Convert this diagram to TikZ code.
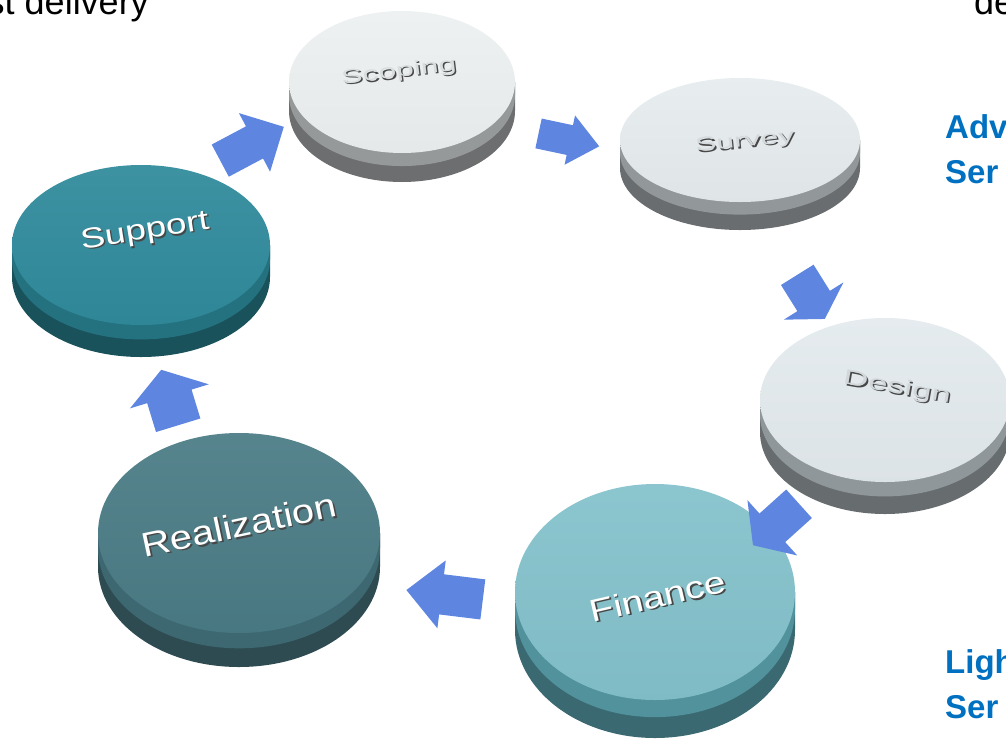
\documentclass[tikz,border=0pt]{standalone}
\usepackage{fontspec}
\setmainfont{Liberation Sans}
\usetikzlibrary{shapes.arrows,calc}

\definecolor{flowblue}{RGB}{94,134,224}
\definecolor{headblue}{RGB}{0,112,192}
\definecolor{scopetop}{RGB}{236,240,241}
\definecolor{scopeside}{RGB}{150,153,154}
\definecolor{surveytop}{RGB}{230,236,238}
\definecolor{surveyside}{RGB}{146,152,154}
\definecolor{designtop}{RGB}{227,234,237}
\definecolor{designside}{RGB}{143,151,154}
\definecolor{financetop}{RGB}{131,193,203}
\definecolor{financeside}{RGB}{82,146,157}
\definecolor{realtop}{RGB}{74,123,133}
\definecolor{realside}{RGB}{62,104,113}
\definecolor{supporttop}{RGB}{47,138,155}
\definecolor{supportside}{RGB}{36,114,128}

% disc: centre, x radius, y radius, depth, top colour, side colour
\newcommand{\disc}[6]{%
  \fill[#6!72!black] ($#1+(-#2,0)$) -- ++(0,#4) arc[start angle=180,end angle=0,x radius=#2,y radius=#3] -- ++(0,-#4) -- cycle;
  \fill[#6] ($#1+(-#2,0)$) -- ++(0,{0.45*#4}) arc[start angle=180,end angle=0,x radius=#2,y radius=#3] -- ++(0,{-0.45*#4}) -- cycle;
  \shade[top color=#5!93!white, bottom color=#5!97!black] #1 ellipse[x radius=#2,y radius=#3];
}

\tikzset{
  flow/.style={single arrow, fill=flowblue, draw=none, inner xsep=1pt, inner ysep=17pt,
    single arrow head extend=14pt, single arrow tip angle=90},
  lbl/.style={inner sep=0pt},
  ghost/.style={inner sep=0pt, text=black!72},
  note/.style={inner sep=0pt, font=\fontsize{36}{36}\selectfont},
  side/.style={inner sep=0pt, text=headblue, font=\fontsize{33}{33}\selectfont\bfseries}
}

\begin{document}
\begin{tikzpicture}[x=1pt,y=-1pt]
\useasboundingbox (0,0) rectangle (1006,742);

% cut-off headings
\node[note, anchor=base east] (deliv) at (149,14) {st delivery};
\node[note, anchor=base west] (deploy) at (974,14) {de};
\node[side, anchor=base west] (adv) at (945,138) {Adv};
\node[side, anchor=base west] (advser) at (945,183) {Ser};
\node[side, anchor=base west] (light) at (945,673) {Ligh};
\node[side, anchor=base west] (lightser) at (945,718) {Ser};

% discs
\disc{(402,82)}{113}{71}{29}{scopetop}{scopeside}
\disc{(740,140)}{120}{62}{28}{surveytop}{surveyside}
\disc{(885,400)}{125}{82}{32}{designtop}{designside}
\disc{(655,592)}{140}{108}{38}{financetop}{financeside}
\disc{(239,533)}{141}{100}{34}{realtop}{realside}
\disc{(141,245)}{129}{80}{32}{supporttop}{supportside}

% labels
\node[ghost, font=\fontsize{32}{32}\selectfont, rotate=7, yscale=0.62] at (400.5,73.5) {Scoping};
\node[lbl, text=scopetop!92!black, font=\fontsize{32}{32}\selectfont, rotate=7, yscale=0.62] (scoping) at (399,72) {Scoping};
\node[ghost, font=\fontsize{32}{32}\selectfont, rotate=6, yscale=0.6] at (746.5,143.5) {Survey};
\node[lbl, text=surveytop!92!black, font=\fontsize{32}{32}\selectfont, rotate=6, yscale=0.6] (survey) at (745,142) {Survey};
\node[ghost, font=\fontsize{35}{35}\selectfont, rotate=-10, yscale=0.6] at (898.5,389.5) {Design};
\node[lbl, text=designtop!92!black, font=\fontsize{35}{35}\selectfont, rotate=-10, yscale=0.6] (design) at (897,388) {Design};
\node[ghost, font=\fontsize{39}{39}\selectfont, rotate=13, yscale=0.8] at (659.5,597.5) {Finance};
\node[lbl, text=white, font=\fontsize{39}{39}\selectfont, rotate=13, yscale=0.8] (finance) at (658,596) {Finance};
\node[ghost, font=\fontsize{40}{40}\selectfont, rotate=12, yscale=0.85] at (240.5,526.5) {Realization};
\node[lbl, text=white, font=\fontsize{40}{40}\selectfont, rotate=12, yscale=0.85] (realization) at (239,525) {Realization};
\node[ghost, font=\fontsize{37}{37}\selectfont, rotate=9, yscale=0.77] at (146.5,233.5) {Support};
\node[lbl, text=white, font=\fontsize{37}{37}\selectfont, rotate=9, yscale=0.77] (support) at (145,232) {Support};

% arrows between the steps
\node[flow, minimum height=72, inner ysep=18pt, single arrow head extend=15pt, rotate=28] (a1) at (244,148) {};
\node[flow, minimum height=62, inner ysep=15pt, single arrow head extend=10pt, single arrow tip angle=80, rotate=-12] (a2) at (560,138) {};
\node[flow, minimum height=52, inner ysep=19pt, single arrow head extend=16pt, single arrow tip angle=118, rotate=-58] (a3) at (808,292) {};
\node[flow, minimum height=62, inner ysep=19pt, single arrow head extend=18pt, single arrow tip angle=110, rotate=-138] (a4) at (781,520) {};
\node[flow, minimum height=77, inner ysep=20pt, single arrow head extend=14pt, single arrow tip angle=88, rotate=173] (a5) at (455,596) {};
\node[flow, minimum height=58, inner ysep=23pt, single arrow head extend=18pt, single arrow tip angle=112, rotate=107] (a6) at (172,405) {};
\end{tikzpicture}
\end{document}
